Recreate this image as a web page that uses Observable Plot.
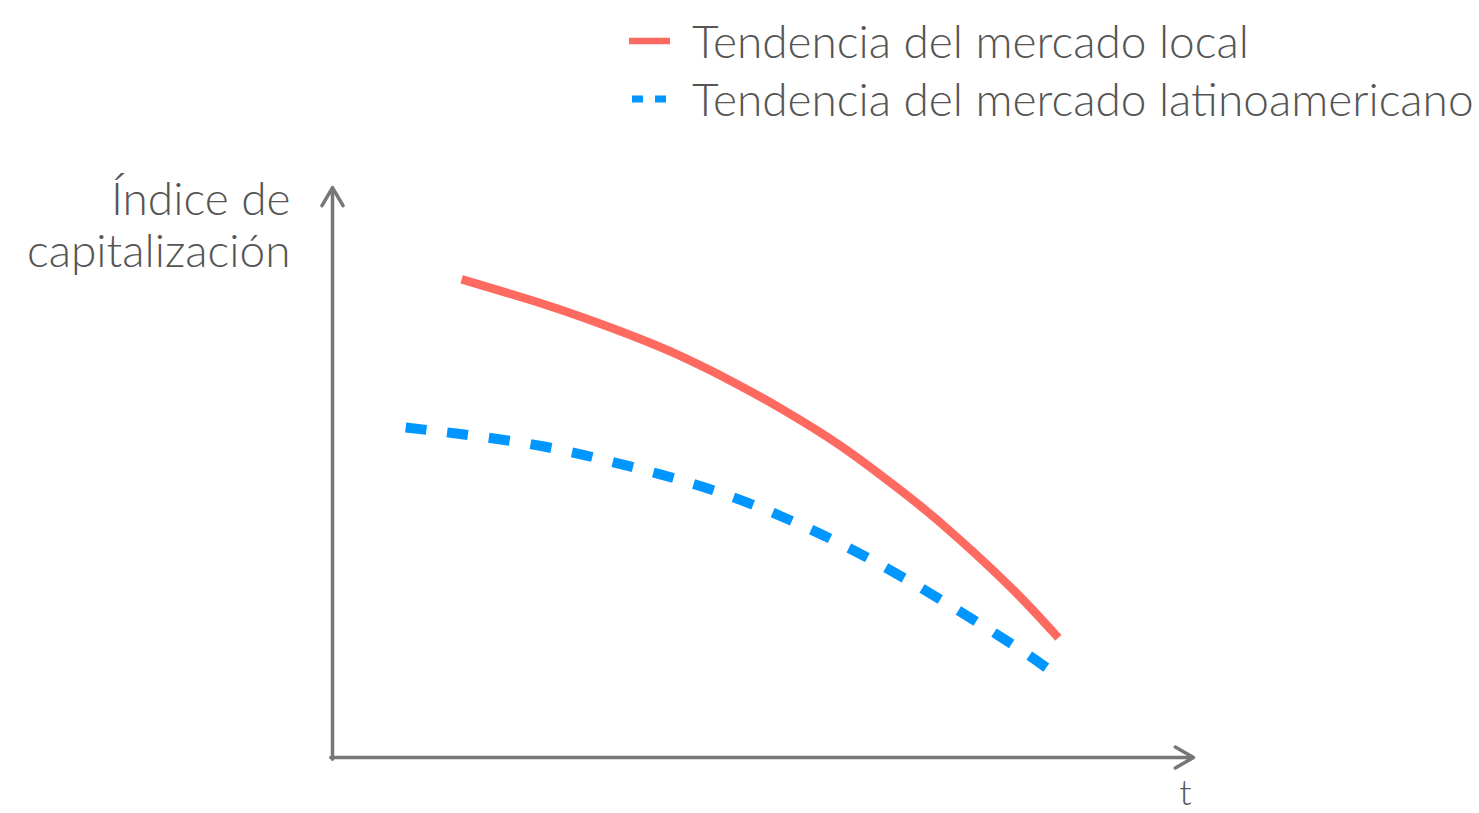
<!DOCTYPE html>
<html>
<head>
<meta charset="utf-8">
<script src="https://cdn.jsdelivr.net/npm/d3@7"></script>
<script src="https://cdn.jsdelivr.net/npm/@observablehq/plot@0.6"></script>
<style>
  html, body { margin: 0; padding: 0; background: #fff; }
  body { font-family: Lato, "Noto Sans", sans-serif; color: #555; }
  #wrap { position: relative; width: 1479px; height: 813px; overflow: hidden; }
  #legend { position: absolute; left: 629px; top: 11px; font-size: 46px; font-weight: 300; }
  .row { display: flex; align-items: center; height: 58px; white-space: nowrap; }
  .row svg { flex: none; margin-right: 22px; }
  #chart { position: absolute; left: 0; top: 0; }
</style>
</head>
<body>
<div id="wrap">
  <div id="chart"></div>
  <div id="legend"></div>
</div>
<script>
// Time axis (arbitrary units) and the two capitalization trends
const tLocal = [1.5, 2.42, 3.11, 3.93, 4.7, 5.2, 5.9, 6.57, 7.06, 7.84, 8.43];
const vLocal = [8.39, 7.97, 7.61, 7.12, 6.55, 6.13, 5.47, 4.72, 4.12, 3.04, 2.1];
const tLatam = [0.85, 1.46, 2.44, 3.42, 4.36, 5.29, 6.17, 7.04, 7.88, 8.37];
const vLatam = [5.79, 5.68, 5.46, 5.12, 4.72, 4.18, 3.54, 2.79, 2.0, 1.49];

const seriesNames = ["Tendencia del mercado local", "Tendencia del mercado latinoamericano"];
const seriesColors = ["#ff6a60", "#0096ff"];
const yLabel = "Índice de\ncapitalización";
const xLabel = "t";
const axisMax = 10;

const local = tLocal.map((t, i) => ({t, v: vLocal[i]}));
const latam = tLatam.map((t, i) => ({t, v: vLatam[i]}));

const axes = [
  {x1: 0, y1: 0, x2: axisMax, y2: 0},
  {x1: 0, y1: 0, x2: 0, y2: axisMax}
];

const chart = Plot.plot({
  width: 1479,
  height: 813,
  marginLeft: 332,
  marginRight: 286,
  marginTop: 187,
  marginBottom: 56,
  x: {domain: [0, axisMax], axis: null},
  y: {domain: [0, axisMax], axis: null},
  style: {fontFamily: "Lato, 'Noto Sans', sans-serif", background: "#fff", overflow: "visible"},
  marks: [
    Plot.arrow(axes, {
      x1: "x1", y1: "y1", x2: "x2", y2: "y2",
      stroke: "#777", strokeWidth: 3.5, headLength: 9, headAngle: 60,
      insetStart: -1.75
    }),
    Plot.line(latam, {
      x: "t", y: "v", curve: "natural",
      stroke: seriesColors[1], strokeWidth: 10,
      strokeDasharray: "21,21", strokeLinecap: "butt"
    }),
    Plot.line(local, {
      x: "t", y: "v", curve: "natural",
      stroke: seriesColors[0], strokeWidth: 8.5, strokeLinecap: "butt"
    }),
    Plot.text([yLabel], {
      x: 0, y: axisMax, text: d => d,
      dx: -42, dy: 37, textAnchor: "end", lineAnchor: "middle",
      lineHeight: 1.13, fontSize: 46, fontWeight: 300, fill: "#555"
    }),
    Plot.text([xLabel], {
      x: axisMax, y: 0, text: d => d,
      dx: -8, dy: 36, textAnchor: "middle", lineAnchor: "middle",
      fontSize: 36, fontWeight: 300, fill: "#555"
    })
  ]
});
document.getElementById("chart").append(chart);

// Legend: a swatch and a name per series
const legend = d3.select("#legend");
seriesNames.forEach((name, i) => {
  const row = legend.append("div").attr("class", "row");
  const sw = row.append("svg").attr("width", 41).attr("height", 14);
  sw.append("line")
    .attr("x1", i === 0 ? 0 : 3).attr("x2", 41).attr("y1", 8).attr("y2", 8)
    .attr("stroke", seriesColors[i])
    .attr("stroke-width", i === 0 ? 6.5 : 7)
    .attr("stroke-dasharray", i === 0 ? null : "11,12");
  row.append("span").text(name);
});
</script>
</body>
</html>
